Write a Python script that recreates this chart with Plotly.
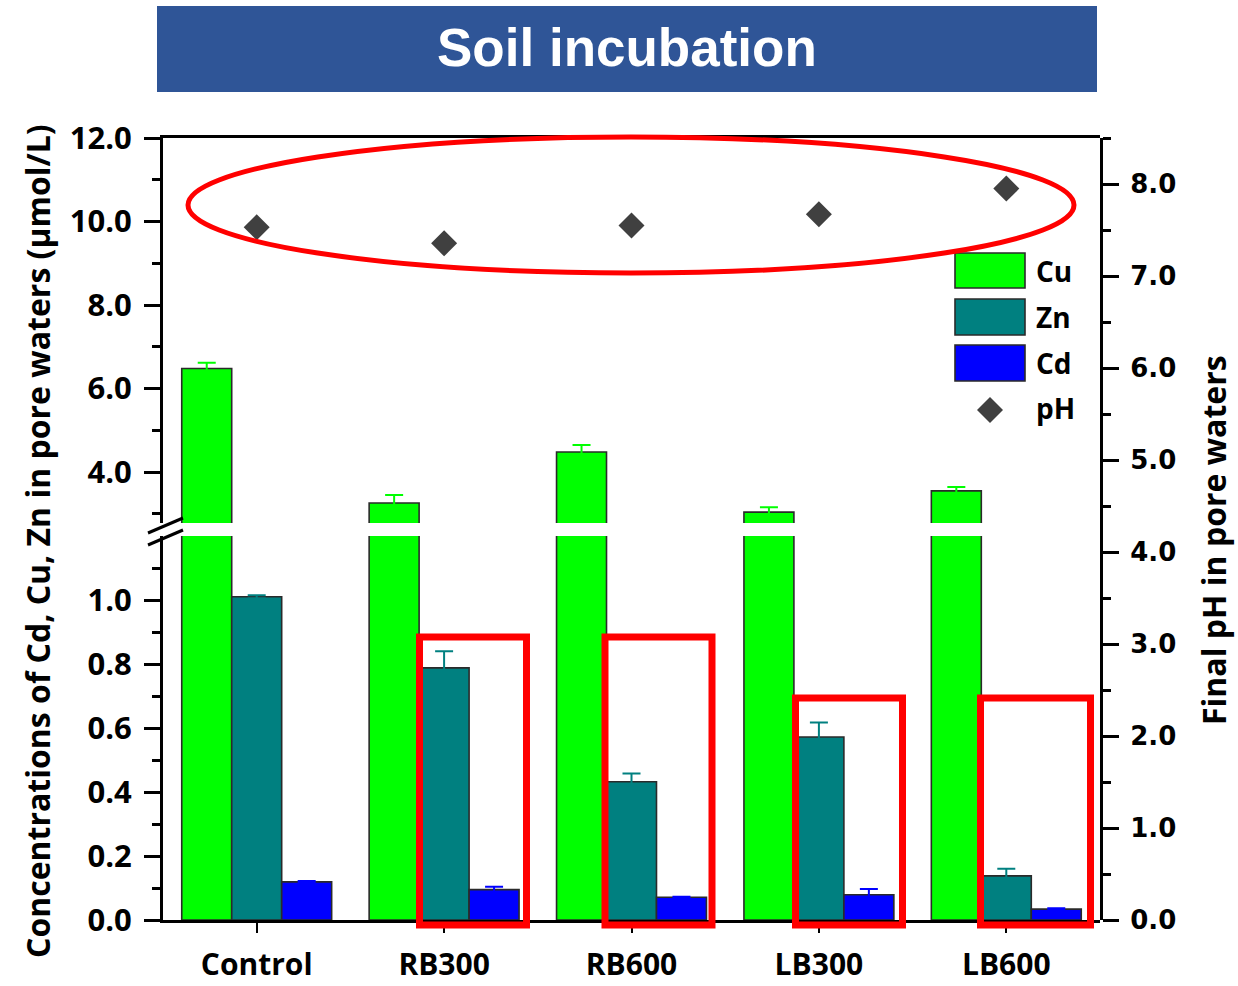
import plotly.graph_objects as go

# ---- data -------------------------------------------------------------
categories = ["Control", "RB300", "RB600", "LB300", "LB600"]

cu = [6.48, 3.26, 4.48, 3.04, 3.55]
cu_err = [0.14, 0.19, 0.17, 0.12, 0.09]

zn = [1.01, 0.788, 0.432, 0.572, 0.138]
zn_err = [0.005, 0.052, 0.026, 0.045, 0.022]

cd = [0.119, 0.095, 0.071, 0.079, 0.034]
cd_err = [0.003, 0.009, 0.002, 0.018, 0.003]

ph = [7.53, 7.355, 7.55, 7.67, 7.95]

lower_major = [0.0, 0.2, 0.4, 0.6, 0.8, 1.0]
lower_minor = [0.1, 0.3, 0.5, 0.7, 0.9, 1.1]
upper_major = [4.0, 6.0, 8.0, 10.0, 12.0]
upper_minor = [3.0, 5.0, 7.0, 9.0, 11.0]
ph_major = [0, 1, 2, 3, 4, 5, 6, 7, 8]
ph_minor = [0.5, 1.5, 2.5, 3.5, 4.5, 5.5, 6.5, 7.5, 8.5]

# ---- style ------------------------------------------------------------
C_CU = "#00FF00"
C_ZN = "#008080"
C_CD = "#0000FF"
C_PH = "#404040"
OUTLINE = "#2a2a2a"
FONT = "Open Sans"

W, H = 1238, 986
ML, MR, MT, MB = 163, 138, 138, 66
PW, PH_ = W - ML - MR, H - MT - MB


def px(x):
    return (x - ML) / PW


def py(y):
    return (H - MB - y) / PH_


LOWER_DOM = [0.0, py(536)]
UPPER_DOM = [py(523), 1.0]

BAR_W = 0.8 / 3
OFFS = [-0.4, -0.4 + BAR_W, -0.4 + 2 * BAR_W]

fig = go.Figure()


def bars(vals, errs, color, off, xa, ya, name):
    fig.add_trace(go.Bar(
        x=categories, y=vals, name=name, xaxis=xa, yaxis=ya,
        width=BAR_W, offset=off,
        marker=dict(color=color, line=dict(color=OUTLINE, width=1.6)),
        error_y=None if errs is None else dict(
            type="data", array=errs, visible=True,
            color=color, thickness=2, width=9),
        showlegend=False,
    ))


# upper panel: Cu only (the other metals are below the break)
bars(cu, cu_err, C_CU, OFFS[0], "x2", "y2", "Cu")
# lower panel: all three metals
bars(cu, None, C_CU, OFFS[0], "x", "y", "Cu")
bars(zn, zn_err, C_ZN, OFFS[1], "x", "y", "Zn")
bars(cd, cd_err, C_CD, OFFS[2], "x", "y", "Cd")

fig.add_trace(go.Scatter(
    x=categories, y=ph, name="pH", mode="markers", xaxis="x", yaxis="y3",
    marker=dict(symbol="diamond", size=20, color=C_PH),
    showlegend=False,
))

tick_font = dict(family=FONT, size=31, color="black", weight="bold")
x_font = dict(family=FONT, size=30, color="black", weight="bold")

axis_common = dict(showgrid=False, zeroline=False, showline=True,
                   linecolor="black", linewidth=3, automargin=False)

fig.update_layout(
    width=W, height=H,
    margin=dict(l=ML, r=MR, t=MT, b=MB),
    paper_bgcolor="white",
    plot_bgcolor="rgba(0,0,0,0)",
    barmode="overlay",
    showlegend=False,
    xaxis=dict(**axis_common, domain=[0, 1], anchor="y",
               range=[-0.5, 4.5], ticks="outside", ticklen=10, tickwidth=2,
               tickcolor="black", tickfont=x_font, ticklabelstandoff=6),
    xaxis2=dict(**axis_common, matches="x", anchor="y2", side="top",
                range=[-0.5, 4.5], showticklabels=False, ticks=""),
    yaxis=dict(**axis_common, domain=LOWER_DOM, anchor="x",
               range=[0, (920 - 536) / 320],
               tickmode="array", tickvals=lower_major,
               ticktext=[f"{v:.1f}" for v in lower_major],
               ticks="outside", ticklen=16, tickwidth=3, tickcolor="black",
               tickfont=tick_font, ticklabelstandoff=6,
               minor=dict(tickmode="array", tickvals=lower_minor,
                          ticks="outside", ticklen=8, tickwidth=3,
                          tickcolor="black")),
    yaxis2=dict(**axis_common, domain=UPPER_DOM, anchor="x2",
                range=[2.78, 12.0],
                tickmode="array", tickvals=upper_major,
                ticktext=[f"{v:.1f}" for v in upper_major],
                ticks="outside", ticklen=16, tickwidth=3, tickcolor="black",
                tickfont=tick_font, ticklabelstandoff=6,
                minor=dict(tickmode="array", tickvals=upper_minor,
                           ticks="outside", ticklen=8, tickwidth=3,
                           tickcolor="black")),
    yaxis3=dict(**axis_common, domain=[0, 1], anchor="x", side="right",
                range=[0, 8.5],
                tickmode="array", tickvals=ph_major,
                ticktext=[f"{v:.1f}" for v in ph_major],
                ticks="outside", ticklen=16, tickwidth=3, tickcolor="black",
                tickfont=dict(family="DejaVu Sans", size=26, color="black",
                              weight="bold"),
                ticklabelstandoff=6,
                minor=dict(tickmode="array", tickvals=ph_minor,
                           ticks="outside", ticklen=8, tickwidth=3,
                           tickcolor="black")),
)

shapes = []
annotations = []

# title banner
shapes.append(dict(type="rect", xref="paper", yref="paper",
                   x0=px(157), x1=px(1097), y0=py(92), y1=py(6),
                   fillcolor="#2F5597", line=dict(width=0), layer="below"))
annotations.append(dict(text="Soil incubation", xref="paper", yref="paper",
                        x=px(627), y=py(48), xanchor="center", yanchor="middle",
                        showarrow=False,
                        font=dict(family="Liberation Sans", size=53,
                                  color="white", weight="bold")))

# axis titles
annotations.append(dict(text="Concentrations of Cd, Cu, Zn in pore waters (µmol/L)",
                        xref="paper", yref="paper", x=px(37), y=py(541),
                        xanchor="center", yanchor="middle", textangle=-90,
                        showarrow=False,
                        font=dict(family=FONT, size=32, color="black",
                                  weight="bold")))
annotations.append(dict(text="Final pH in pore waters",
                        xref="paper", yref="paper", x=px(1213), y=py(540),
                        xanchor="center", yanchor="middle", textangle=-90,
                        showarrow=False,
                        font=dict(family=FONT, size=32, color="black",
                                  weight="bold")))

# axis break marks
for (x0, y0, x1, y1) in [(148, 533, 183, 518), (148, 545, 183, 530)]:
    shapes.append(dict(type="line", xref="paper", yref="paper",
                       x0=px(x0), y0=py(y0), x1=px(x1), y1=py(y1),
                       line=dict(color="black", width=3)))

# legend
legend_items = [("Cu", C_CU, 253, 288), ("Zn", C_ZN, 299, 335),
                ("Cd", C_CD, 345, 381)]
for name, color, y0, y1 in legend_items:
    shapes.append(dict(type="rect", xref="paper", yref="paper",
                       x0=px(955), x1=px(1025), y0=py(y1), y1=py(y0),
                       fillcolor=color, line=dict(color=OUTLINE, width=1.6)))
    annotations.append(dict(text=name, xref="paper", yref="paper",
                            x=px(1034), y=py((y0 + y1) / 2),
                            xanchor="left", yanchor="middle", showarrow=False,
                            font=dict(family=FONT, size=28, color="black",
                                      weight="bold")))
cx, cy, r = 990, 410, 13
shapes.append(dict(type="path", xref="paper", yref="paper",
                   path=(f"M {px(cx)},{py(cy - r)} L {px(cx + r)},{py(cy)} "
                         f"L {px(cx)},{py(cy + r)} L {px(cx - r)},{py(cy)} Z"),
                   fillcolor=C_PH, line=dict(width=0)))
annotations.append(dict(text="pH", xref="paper", yref="paper",
                        x=px(1034), y=py(408), xanchor="left", yanchor="middle",
                        showarrow=False,
                        font=dict(family=FONT, size=28, color="black",
                                  weight="bold")))

# red highlight marks
shapes.append(dict(type="circle", xref="paper", yref="paper",
                   x0=px(188), x1=px(1074), y0=py(273), y1=py(137),
                   line=dict(color="#FF0000", width=5)))
for x0, x1, y0 in [(419.5, 526.5, 637), (605, 712, 637),
                   (795.5, 902.5, 698), (980.5, 1090.5, 698)]:
    shapes.append(dict(type="rect", xref="paper", yref="paper",
                       x0=px(x0), x1=px(x1), y0=py(925), y1=py(y0),
                       line=dict(color="#FF0000", width=7)))

fig.update_layout(shapes=shapes, annotations=annotations)

fig.write_html("out.html")
